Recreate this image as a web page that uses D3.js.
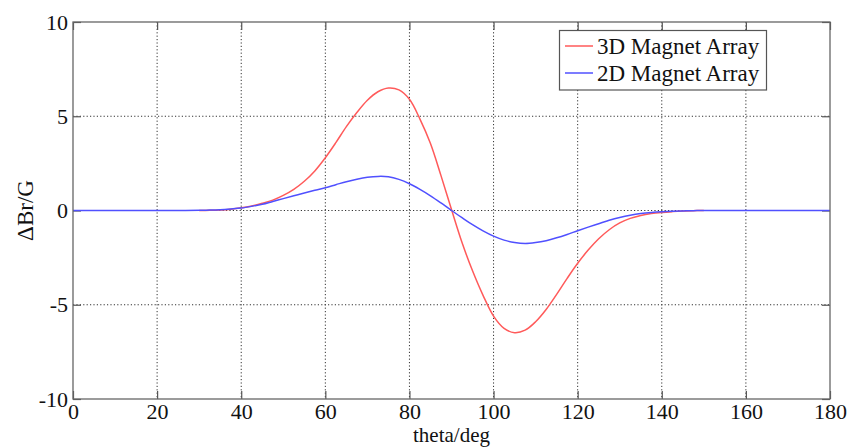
<!DOCTYPE html>
<html>
<head>
<meta charset="utf-8">
<script src="https://cdn.jsdelivr.net/npm/d3@7"></script>
<style>
  html, body { margin: 0; padding: 0; background: #fff; }
  svg { display: block; }
  text { font-family: "Liberation Serif", "Times New Roman", serif; fill: #111; }
</style>
</head>
<body>
<svg id="chart" width="851" height="447"></svg>
<script>
// ---- data ----
const xTicks = [0, 20, 40, 60, 80, 100, 120, 140, 160, 180];
const yTicks = [-10, -5, 0, 5, 10];
const seriesNames = ["3D Magnet Array", "2D Magnet Array"];

const theta3D = [30, 32.5, 35, 37.5, 40, 42.5, 45, 47.5, 50, 52.5, 55, 57.5, 60, 62.5, 65, 67.5, 70, 72.5, 75, 77.5, 80, 82.5, 85, 87.5, 90,
  92.5, 95, 97.5, 100, 102.5, 105, 107.5, 110, 112.5, 115, 117.5, 120, 122.5, 125, 127.5, 130, 132.5, 135, 137.5, 140, 142.5, 145, 147.5, 150];
const values3D = [0, 0.01, 0.03, 0.07, 0.14, 0.24, 0.38, 0.55, 0.8, 1.12, 1.55, 2.1, 2.8, 3.6, 4.45, 5.2, 5.85, 6.3, 6.5, 6.4, 5.9, 4.85, 3.55, 1.85, 0.05,
  -1.7, -3.2, -4.5, -5.6, -6.25, -6.48, -6.35, -5.9, -5.25, -4.45, -3.6, -2.8, -2.1, -1.5, -1.02, -0.66, -0.42, -0.26, -0.16, -0.1, -0.06, -0.03, -0.01, 0];

const theta2D = [0, 10, 20, 25, 30, 32.5, 35, 37.5, 40, 42.5, 45, 47.5, 50, 52.5, 55, 57.5, 60, 62.5, 65, 67.5, 70, 72.5, 75, 77.5, 80, 82.5, 85, 87.5, 90,
  92.5, 95, 97.5, 100, 102.5, 105, 107.5, 110, 112.5, 115, 117.5, 120, 122.5, 125, 127.5, 130, 132.5, 135, 137.5, 140, 142.5, 145, 147.5, 150, 155, 160, 170, 180];
const values2D = [0, 0, 0, 0, 0.01, 0.02, 0.04, 0.08, 0.13, 0.22, 0.33, 0.48, 0.63, 0.78, 0.93, 1.07, 1.21, 1.37, 1.53, 1.66, 1.76, 1.81, 1.79, 1.65, 1.42, 1.12, 0.78, 0.4, 0,
  -0.38, -0.75, -1.08, -1.36, -1.57, -1.7, -1.75, -1.7, -1.6, -1.45, -1.27, -1.07, -0.88, -0.7, -0.52, -0.37, -0.25, -0.16, -0.1, -0.06, -0.035, -0.02, -0.01, 0, 0, 0, 0, 0];

const colors = ["#ff5a5a", "#5050ff"];

// ---- layout ----
const svg = d3.select("#chart");
const pLeft = 73, pRight = 830, pTop = 22, pBottom = 399;
const x = d3.scaleLinear().domain([0, 180]).range([pLeft, pRight]);
const y = d3.scaleLinear().domain([-10, 10]).range([pBottom, pTop]);

// grid
const grid = svg.append("g");
grid.selectAll(".gx").data(xTicks.filter(d => d > 0 && d < 180)).enter().append("line")
  .attr("x1", d => x(d)).attr("x2", d => x(d)).attr("y1", pTop).attr("y2", pBottom)
  .attr("stroke", "#333").attr("stroke-width", 1).attr("stroke-dasharray", "1.2,2.2");
grid.selectAll(".gy").data(yTicks.filter(d => d > -10 && d < 10)).enter().append("line")
  .attr("y1", d => y(d)).attr("y2", d => y(d)).attr("x1", pLeft).attr("x2", pRight)
  .attr("stroke", "#333").attr("stroke-width", 1).attr("stroke-dasharray", "1.2,2.2");

// axes (ticks inward) using d3 axes
const tickLen = 8;
const fmt = d => String(d);
const axB = svg.append("g").attr("transform", `translate(0,${pBottom})`)
  .call(d3.axisBottom(x).tickValues(xTicks).tickSizeInner(-tickLen).tickSizeOuter(0).tickPadding(10).tickFormat(fmt));
const axT = svg.append("g").attr("transform", `translate(0,${pTop})`)
  .call(d3.axisTop(x).tickValues(xTicks).tickSizeInner(-tickLen).tickSizeOuter(0).tickFormat(""));
const axL = svg.append("g").attr("transform", `translate(${pLeft},0)`)
  .call(d3.axisLeft(y).tickValues(yTicks).tickSizeInner(-tickLen).tickSizeOuter(0).tickPadding(5).tickFormat(fmt));
const axR = svg.append("g").attr("transform", `translate(${pRight},0)`)
  .call(d3.axisRight(y).tickValues(yTicks).tickSizeInner(-tickLen).tickSizeOuter(0).tickFormat(""));
[axB, axT, axL, axR].forEach(a => {
  a.select(".domain").remove();
  a.selectAll(".tick line").attr("stroke", "#555").attr("stroke-width", 1.2);
  a.selectAll(".tick text").style("font-family", "'Liberation Serif', serif").style("font-size", "22px").attr("fill", "#111");
});
axB.selectAll(".tick text").attr("dy", "0.71em").attr("y", 4);
axL.selectAll(".tick text").attr("dy", "0.32em");

// curves
const line = d3.line().x(d => x(d[0])).y(d => y(d[1])).curve(d3.curveCatmullRom.alpha(0.5));
const data3D = theta3D.map((t, i) => [t, values3D[i]]);
const data2D = theta2D.map((t, i) => [t, values2D[i]]);
svg.append("path").datum(data3D).attr("d", line).attr("fill", "none").attr("stroke", colors[0]).attr("stroke-width", 1.5);
svg.append("path").datum(data2D).attr("d", line).attr("fill", "none").attr("stroke", colors[1]).attr("stroke-width", 1.5);

// frame
svg.append("rect").attr("x", pLeft).attr("y", pTop).attr("width", pRight - pLeft).attr("height", pBottom - pTop)
  .attr("fill", "none").attr("stroke", "#666").attr("stroke-width", 1.3);

// axis titles
svg.append("text").attr("x", (pLeft + pRight) / 2).attr("y", 442.3).attr("text-anchor", "middle")
  .style("font-size", "21px").text("theta/deg");
svg.append("text").attr("transform", `translate(33,${(pTop + pBottom) / 2}) rotate(-90)`)
  .attr("text-anchor", "middle").style("font-size", "23px").text("ΔBr/G");

// legend
const lg = svg.append("g");
lg.append("rect").attr("x", 559.5).attr("y", 30.5).attr("width", 207).attr("height", 59.5)
  .attr("fill", "#fff").attr("stroke", "#555").attr("stroke-width", 1.2);
seriesNames.forEach((name, i) => {
  const cy = 46 + i * 27;
  lg.append("line").attr("x1", 565).attr("x2", 593).attr("y1", cy).attr("y2", cy)
    .attr("stroke", colors[i]).attr("stroke-width", 1.5);
  lg.append("text").attr("x", 597).attr("y", cy).attr("dy", "0.35em")
    .style("font-size", "23px").text(name);
});
</script>
</body>
</html>
